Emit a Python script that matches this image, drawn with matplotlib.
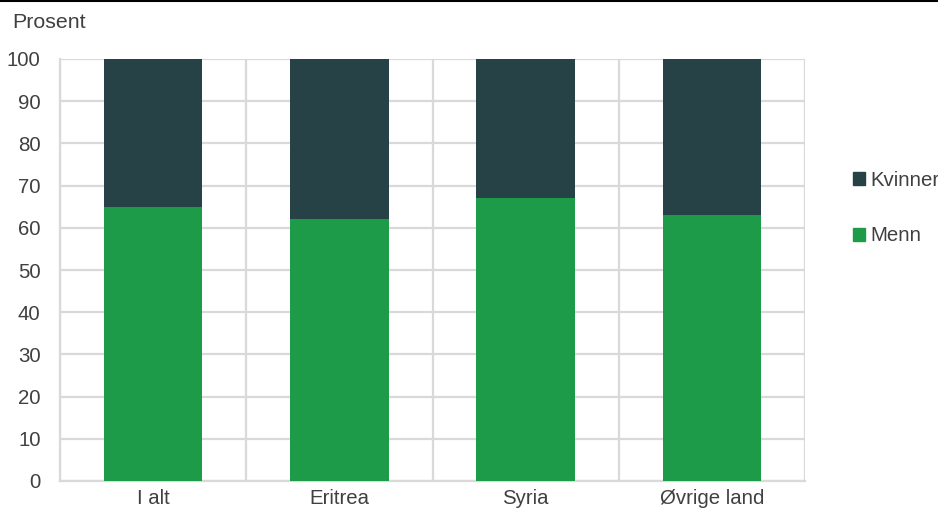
import matplotlib.pyplot as plt
import numpy as np
from matplotlib.patches import Patch

plt.rcParams['font.family'] = ['Liberation Sans', 'DejaVu Sans']

# data
kategorier = ['I alt', 'Eritrea', 'Syria', 'Øvrige land']
menn = [65, 62, 67, 63]
kvinner = [35, 38, 33, 37]

gronn = '#1d9b48'
mork = '#274247'
grid = '#d9d9d9'
tekst = '#404040'

fig = plt.figure(figsize=(9.38, 5.09), dpi=100)
ax = fig.add_axes([60/938, 1-481/509, 745/938, 422/509])

x = np.arange(len(kategorier))
ax.bar(x, menn, width=0.53, color=gronn, zorder=3)
ax.bar(x, kvinner, width=0.53, bottom=menn, color=mork, zorder=3)

ax.set_xlim(-0.5, len(kategorier) - 0.5)
ax.set_ylim(0, 100)
ax.set_yticks(range(0, 101, 10))
ax.set_xticks(x)
ax.set_xticklabels(kategorier)
ax.set_xticks(np.arange(-0.5, len(kategorier)), minor=True)
ax.grid(axis='y', color=grid, lw=1.6, zorder=0)
ax.grid(axis='x', which='minor', color=grid, lw=1.6, zorder=0)
ax.tick_params(which='both', length=0, labelsize=14.7, colors=tekst)
ax.tick_params(axis='y', pad=14)
ax.tick_params(axis='x', pad=6)
for s in ['top', 'right']:
    ax.spines[s].set_visible(False)
for s in ['left', 'bottom']:
    ax.spines[s].set_color(grid)
    ax.spines[s].set_linewidth(1.6)

fig.text(12/938, 1-23/509, 'Prosent', fontsize=15.4, color=tekst, va='center')

# linje øverst
fig.add_artist(plt.Line2D([0, 1], [0.998, 0.998], color='black', lw=1.5))

handles = [Patch(color=mork, label='Kvinner'), Patch(color=gronn, label='Menn')]
fig.legend(handles=handles, loc='center left', bbox_to_anchor=(843/938, 1-208/509),
           frameon=False, fontsize=14.7, labelcolor=tekst, handlelength=0.6,
           handleheight=0.6, handletextpad=0.25, labelspacing=1.8, borderpad=0)

fig.savefig('out.png', dpi=100)
